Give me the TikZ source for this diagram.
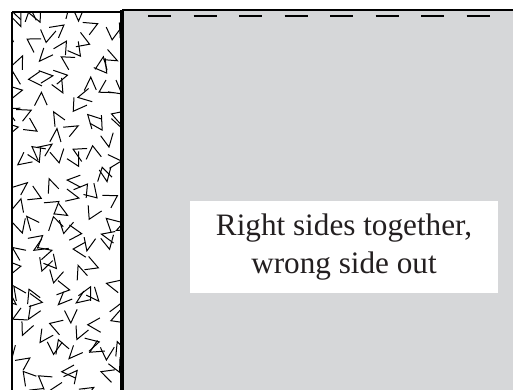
\documentclass[tikz,border=0pt]{standalone}
\usepackage{fontspec}
\setmainfont{Liberation Serif}
\definecolor{fabric}{RGB}{214,215,217}
\definecolor{ink}{RGB}{35,31,32}
\begin{document}
\begin{tikzpicture}[x=0.5pt, y=-0.5pt, chevron/.style={line width=0.5pt}, stitch/.style={line width=1pt}, label box/.style={fill=white, inner sep=0pt, minimum width=154pt, minimum height=46pt, align=center, text=ink, font=\fontsize{15.6}{19}\selectfont}]
    \useasboundingbox (0,0) rectangle (513,390);
    % wrong side of the fabric
    \fill[fabric] (122,10) rectangle (513,390);
    \draw[line width=1pt] (122,10) -- (513,10);
    \foreach \x in {148,193.5,...,490}
        \draw[stitch] (\x,16) -- ++(23,0);
    % right side, patterned
    \begin{scope}
        \clip (12,12) rectangle (122,390);
        \pgfmathsetseed{5}
        \foreach \r in {0,...,22}
        \foreach \c in {0,...,5} {
            \pgfmathsetmacro\cx{10+20*\c+10*mod(\r,2)+8*rnd-4}
            \pgfmathsetmacro\cy{6+17.5*\r+8*rnd-4}
            \pgfmathsetmacro\a{360*rnd}
            \pgfmathsetmacro\w{22+10*rnd}
            \draw[chevron] (\cx,\cy) ++(\a+\w:15) -- (\cx,\cy) -- ++(\a-\w:14);
        }
    \end{scope}
    \draw[line width=0.8pt] (12,12) -- (122,12);
    \draw[line width=1pt] (12,12) -- (12,390);
    \draw[line width=1.6pt] (122,10) -- (122,390);
    \node[label box] (note) at (344,247) {Right sides together,\\wrong side out};
\end{tikzpicture}
\end{document}
